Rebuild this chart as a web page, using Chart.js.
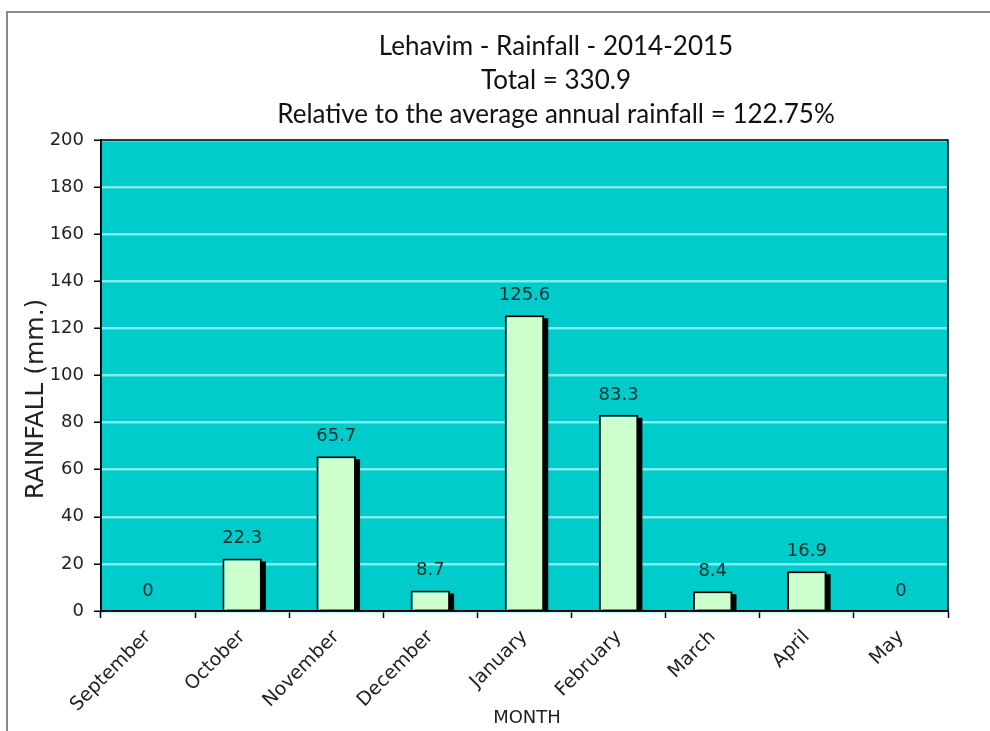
<!DOCTYPE html>
<html>
<head>
<meta charset="utf-8">
<script src="https://cdn.jsdelivr.net/npm/chart.js@4"></script>
<style>
  html, body { margin: 0; padding: 0; background: #fff; }
  #wrap { position: relative; width: 990px; height: 731px; overflow: hidden; }
  #frame { position: absolute; left: 6px; top: 11px; width: 1200px; height: 900px;
           border-top: 2px solid #8a8a8a; border-left: 2px solid #8a8a8a; }
  canvas { position: absolute; left: 0; top: 0; }
</style>
</head>
<body>
<div id="wrap">
  <div id="frame"></div>
  <canvas id="rain-chart" width="990" height="731"></canvas>
</div>
<script>
const months = ['September', 'October', 'November', 'December', 'January', 'February', 'March', 'April', 'May'];
const rainfall = [0, 22.3, 65.7, 8.7, 125.6, 83.3, 8.4, 16.9, 0];
const titleLines = [
  'Lehavim - Rainfall - 2014-2015',
  'Total = 330.9',
  'Relative to the average annual rainfall = 122.75%'
];
const yTitle = 'RAINFALL (mm.)';
const xTitle = 'MONTH';

// teal plot background
const backdrop = {
  id: 'backdrop',
  beforeDraw(chart) {
    const { ctx, chartArea: a } = chart;
    ctx.save();
    ctx.fillStyle = '#00cccc';
    ctx.fillRect(a.left, a.top, a.right - a.left, a.bottom - a.top);
    ctx.restore();
  }
};

// black drop shadow behind each bar
const barShadow = {
  id: 'barShadow',
  beforeDatasetsDraw(chart) {
    const { ctx, chartArea: a } = chart;
    const meta = chart.getDatasetMeta(0);
    ctx.save();
    ctx.beginPath();
    ctx.rect(a.left, a.top, a.right - a.left, a.bottom - a.top);
    ctx.clip();
    ctx.fillStyle = '#000';
    meta.data.forEach(bar => {
      const { x, y, base, width } = bar.getProps(['x', 'y', 'base', 'width'], true);
      if (base - y < 1) return;
      ctx.fillRect(x - width / 2 + 4, y + 3, width, base - y);
    });
    ctx.restore();
  }
};

// value labels, plot frame, titles
const overlay = {
  id: 'overlay',
  afterDatasetsDraw(chart) {
    const { ctx, chartArea: a } = chart;
    const meta = chart.getDatasetMeta(0);
    ctx.save();
    ctx.fillStyle = '#1c2e2e';
    ctx.font = '18px "DejaVu Sans"';
    ctx.textAlign = 'center';
    ctx.textBaseline = 'middle';
    meta.data.forEach((bar, i) => {
      ctx.fillText(String(rainfall[i]), bar.x, bar.y - 20);
    });
    ctx.strokeStyle = '#000';
    ctx.lineWidth = 1.5;
    ctx.strokeRect(a.left, a.top, a.right - a.left, a.bottom - a.top);
    ctx.restore();
  },
  afterDraw(chart) {
    const { ctx } = chart;
    ctx.save();
    ctx.fillStyle = '#111';
    ctx.textAlign = 'center';
    ctx.textBaseline = 'middle';
    ctx.font = '26px Lato';
    titleLines.forEach((t, i) => ctx.fillText(t, 556, 47 + i * 34));

    ctx.font = '18px "DejaVu Sans"';
    ctx.fillStyle = '#222';
    ctx.fillText(xTitle, 527, 718);

    ctx.translate(36, 399);
    ctx.rotate(-Math.PI / 2);
    ctx.font = '25px "DejaVu Sans"';
    ctx.fillText(yTitle, 0, 0);
    ctx.restore();
  }
};

Chart.defaults.color = '#222';

new Chart(document.getElementById('rain-chart'), {
  type: 'bar',
  data: {
    labels: months,
    datasets: [{
      label: 'Rainfall (mm.)',
      data: rainfall,
      backgroundColor: '#ccffcc',
      borderColor: '#000',
      borderWidth: 2,
      barPercentage: 0.42,
      categoryPercentage: 1
    }]
  },
  options: {
    responsive: false,
    devicePixelRatio: 1,
    animation: false,
    layout: { padding: { top: 140, right: 42, left: 0, bottom: 0 } },
    plugins: {
      legend: { display: false },
      tooltip: { enabled: false }
    },
    scales: {
      x: {
        offset: true,
        grid: {
          display: true,
          offset: true,
          drawOnChartArea: false,
          tickLength: 7,
          tickColor: '#000',
          tickWidth: 1.5
        },
        border: { display: true, color: '#000', width: 1.5 },
        ticks: {
          font: { family: 'DejaVu Sans', size: 19 },
          minRotation: 45,
          maxRotation: 45,
          padding: 8
        },
        afterFit(scale) { scale.height = 120; }
      },
      y: {
        min: 0,
        max: 200,
        grid: {
          color: '#80ecec',
          lineWidth: 2.5,
          tickLength: 7,
          tickColor: '#000',
          tickWidth: 1.5
        },
        border: { display: true, color: '#000', width: 1.5 },
        ticks: {
          stepSize: 20,
          font: { family: 'DejaVu Sans', size: 18 },
          padding: 10
        },
        afterFit(scale) { scale.width = 101; }
      }
    }
  },
  plugins: [backdrop, barShadow, overlay]
});
</script>
</body>
</html>
